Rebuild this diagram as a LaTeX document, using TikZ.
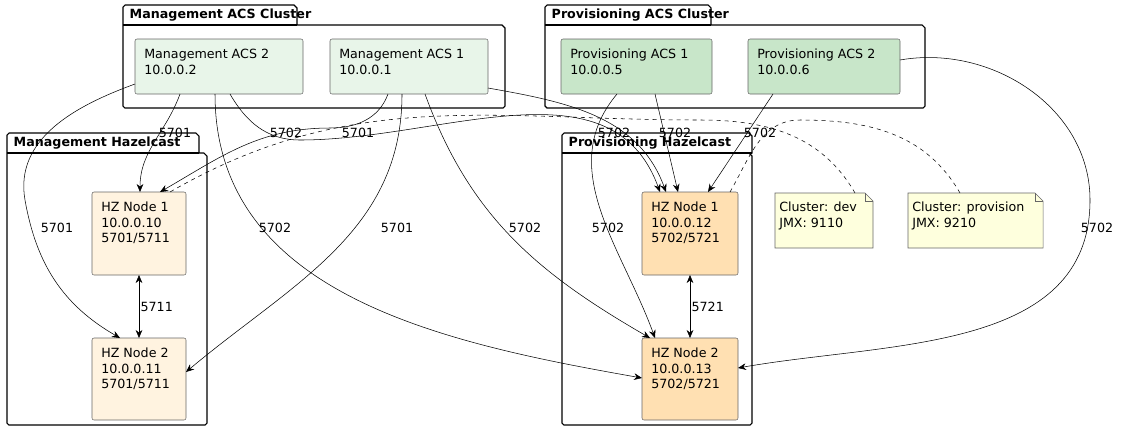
\documentclass[tikz,border=0pt]{standalone}
\usepackage{fontspec}
\setmainfont{DejaVu Sans}
\usetikzlibrary{arrows.meta}
\definecolor{mgacs}{HTML}{E8F5E9}
\definecolor{pracs}{HTML}{C8E6C9}
\definecolor{mghz}{HTML}{FFF3E0}
\definecolor{prhz}{HTML}{FFE0B2}
\definecolor{notec}{HTML}{FEFFDD}
\begin{document}
\begin{tikzpicture}[x=0.75pt,y=-0.75pt,font=\fontsize{9.5}{11.5}\selectfont,
  pkg/.style={draw,thick},
  ptitle/.style={font=\fontsize{9.5}{11.5}\selectfont\bfseries,anchor=west},
  arr/.style={-{Stealth[length=6pt,width=5pt]},draw=black},
  lbl/.style={fill=none,inner sep=1pt},
  notebox/.style={draw=black!60,fill=notec},
]
\useasboundingbox (0,0) rectangle (1123,430);
\newcommand{\pkgdraw}[5]{%
 \draw[pkg] (#1,#2+20) -- (#1,#2+2) -- (#1+2,#2) -- (#5-3,#2) -- (#5,#2+3) -- (#5,#2+20) -- (#3-3,#2+20) -- (#3,#2+23) -- (#3,#4-2) -- (#3-2,#4) -- (#1+2,#4) -- (#1,#4-2) -- cycle;
 \draw[pkg] (#1,#2+20) -- (#5,#2+20);}
\pkgdraw{123}{5}{505}{108}{297}
\node[ptitle] (t1) at (125,15) {Management ACS Cluster};
\pkgdraw{545}{5}{925}{108}{711}
\node[ptitle] (t2) at (547,15) {Provisioning ACS Cluster};
\pkgdraw{7}{133}{207}{425}{199}
\node[ptitle] (t3) at (9,143) {Management Hazelcast};
\pkgdraw{562}{133}{752}{425}{752}
\node[ptitle] (t4) at (564,143) {Provisioning Hazelcast};
\newcommand{\mybox}[7]{\draw[draw=black!60,fill=#6,rounded corners=1.5pt] (#2,#3) rectangle (#4,#5);
 \node[anchor=north west,align=left,inner sep=0pt] (#1) at (#2+9,#3+10) {#7};}
\mybox{ma2}{135}{39}{303}{94}{mgacs}{Management ACS 2\\10.0.0.2}
\mybox{ma1}{330}{39}{488}{94}{mgacs}{Management ACS 1\\10.0.0.1}
\mybox{pa1}{561}{39}{712}{94}{pracs}{Provisioning ACS 1\\10.0.0.5}
\mybox{pa2}{748}{39}{900}{94}{pracs}{Provisioning ACS 2\\10.0.0.6}
\mybox{mh1}{92}{192}{186}{275}{mghz}{HZ Node 1\\10.0.0.10\\5701/5711}
\mybox{mh2}{92}{338}{186}{420}{mghz}{HZ Node 2\\10.0.0.11\\5701/5711}
\mybox{ph1}{642}{192}{738}{275}{prhz}{HZ Node 1\\10.0.0.12\\5702/5721}
\mybox{ph2}{642}{338}{738}{420}{prhz}{HZ Node 2\\10.0.0.13\\5702/5721}
\draw[notebox] (775,193) -- (865,193) -- (873,201) -- (873,248) -- (775,248) -- cycle;
\draw[black!60] (865,193) -- (865,201) -- (873,201);
\node[anchor=north west,align=left,inner sep=0pt] (n1) at (779,202) {Cluster: dev\\JMX: 9110};
\draw[notebox] (908,193) -- (1035,193) -- (1043,201) -- (1043,248) -- (908,248) -- cycle;
\draw[black!60] (1035,193) -- (1035,201) -- (1043,201);
\node[anchor=north west,align=left,inner sep=0pt] (n2) at (912,202) {Cluster: provision\\JMX: 9210};
\coordinate (n1t) at (855,193);
\coordinate (n2t) at (960,193);
% edge labels
\node[lbl] (l1) at (175,133) {5701};
\node[lbl] (l2) at (57,228) {5701};
\node[lbl] (l3) at (286,133) {5702};
\node[lbl] (l4) at (275,228) {5702};
\node[lbl] (l5) at (358,133) {5701};
\node[lbl] (l6) at (397,228) {5701};
\node[lbl] (l7) at (614,133) {5702};
\node[lbl] (l8) at (525,228) {5702};
\node[lbl] (l9) at (675,133) {5702};
\node[lbl] (l10) at (608,228) {5702};
\node[lbl] (l11) at (760,133) {5702};
\node[lbl] (l12) at (1097,228) {5702};
% edges
\draw[arr] (180,94) to[out=250,in=90] (140,192);
\draw[arr] (135,84) to[out=200,in=100] (25,200) to[out=280,in=150] (120,338);
\draw[arr] (230,94) to[out=-60,in=180] (300,140) to[out=0,in=110] (660,192);
\draw[arr] (215,94) to[out=270,in=170] (642,378);
\draw[arr] (388,94) to[out=250,in=0] (330,128) to[out=180,in=30] (160,192);
\draw[arr] (402,94) to[out=270,in=40] (186,372);
\draw[arr] (488,88) to[out=-10,in=110] (666,192);
\draw[arr] (425,94) to[out=290,in=150] (650,338);
\draw[arr] (655,94) -- (678,192);
\draw[arr] (617,94) to[out=230,in=110] (655,338);
\draw[arr] (773,94) -- (708,192);
\draw[arr] (900,60) to[out=10,in=90] (1090,200) to[out=270,in=10] (738,368);
\draw[{Stealth[length=6pt,width=5pt]}-{Stealth[length=6pt,width=5pt]}] (139,275) -- node[right,lbl]{5711} (139,338);
\draw[{Stealth[length=6pt,width=5pt]}-{Stealth[length=6pt,width=5pt]}] (690,275) -- node[right,lbl]{5721} (690,338);
\draw[dashed] (n1t) to[out=120,in=0] (700,120) to[out=180,in=30] (170,192);
\draw[dashed] (n2t) to[out=120,in=0] (800,120) to[out=180,in=60] (730,192);
\end{tikzpicture}
\end{document}
